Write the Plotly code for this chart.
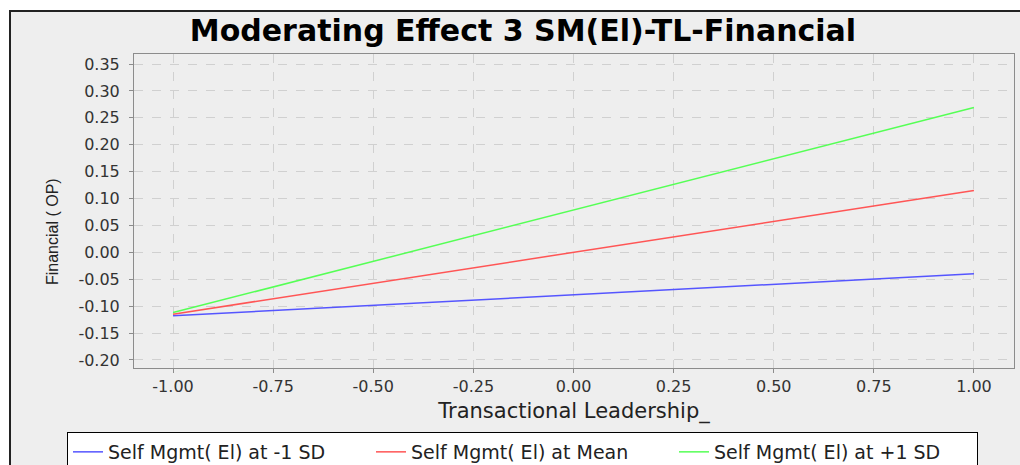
import plotly.graph_objects as go

# data
x_vals = [-1.0, 1.0]
series_names = [
    "Self Mgmt( El) at -1 SD",
    "Self Mgmt( El) at Mean",
    "Self Mgmt( El) at +1 SD",
]
low_sd = [-0.118, -0.040]
mean_sd = [-0.115, 0.115]
high_sd = [-0.112, 0.269]
series_colors = ["#5555FF", "#FF5555", "#55FF55"]

x_ticks = [-1.0, -0.75, -0.5, -0.25, 0.0, 0.25, 0.5, 0.75, 1.0]
y_ticks = [-0.2, -0.15, -0.1, -0.05, 0.0, 0.05, 0.1, 0.15, 0.2, 0.25, 0.3, 0.35]
x_labels = [f"{v:.2f}" for v in x_ticks]   # plain hyphen minus, like the original
y_labels = [f"{v:.2f}" for v in y_ticks]

W, H = 1020, 465
ML, MR, MT, MB = 134, 6, 54, 97
pw, ph = W - ML - MR, H - MT - MB


def px_x(p):
    return (p - ML) / pw


def px_y(p):
    return 1 - (p - MT) / ph


fig = go.Figure()
for name, ys, col in zip(series_names, [low_sd, mean_sd, high_sd], series_colors):
    fig.add_trace(go.Scatter(
        x=x_vals, y=ys, mode="lines", name=name,
        line=dict(color=col, width=1.5),
    ))

# outer chart frame (grey panel with dark border on top/left)
fig.add_shape(
    type="rect", xref="paper", yref="paper", layer="below",
    x0=px_x(10), x1=px_x(1100), y0=px_y(560), y1=px_y(11),
    fillcolor="#EEEEEE", line=dict(color="#222222", width=2),
)

# y axis label sits a little below the plot centre in the original
fig.add_annotation(
    text="Financial ( OP)", textangle=-90, showarrow=False,
    xref="paper", yref="paper", x=px_x(52), y=px_y(232),
    xanchor="center", yanchor="middle",
    font=dict(family="Liberation Sans", size=16, color="#222222"),
)

axis_common = dict(
    showgrid=True, gridcolor="#D0D0D0", griddash="dash", gridwidth=1,
    showline=True, linecolor="#8C8C8C", linewidth=1, mirror=True,
    ticks="outside", ticklen=4, tickcolor="#8C8C8C", zeroline=False,
    tickfont=dict(family="DejaVu Sans", size=16, color="#333333"),
)

fig.update_layout(
    width=W, height=H,
    margin=dict(l=ML, r=MR, t=MT, b=MB, autoexpand=False),
    paper_bgcolor="white", plot_bgcolor="white",
    title=dict(
        text="<b>Moderating Effect 3 SM(El)-TL-Financial</b>",
        xref="container", x=523 / W, xanchor="center", y=1 - 30 / H, yanchor="middle",
        font=dict(family="DejaVu Sans", size=30, color="black"),
    ),
    xaxis=dict(
        range=[-1.0975, 1.1], tickvals=x_ticks, ticktext=x_labels,
        title=dict(text="Transactional Leadership_", standoff=8,
                   font=dict(family="DejaVu Sans", size=21, color="#222222")),
        **axis_common,
    ),
    yaxis=dict(
        range=[-0.215, 0.3686], tickvals=y_ticks, ticktext=y_labels,
        ticklabelstandoff=6,
        **axis_common,
    ),
    showlegend=True,
    legend=dict(
        orientation="h", x=px_x(67), xanchor="left", y=px_y(432), yanchor="top",
        bgcolor="white", bordercolor="black", borderwidth=1,
        font=dict(family="DejaVu Sans", size=19, color="#222222"),
        entrywidth=258, itemwidth=30,
    ),
)

fig.write_html(
    "out.html",
    config={"displayModeBar": False},
    post_script="document.body.style.margin='0';document.body.style.overflow='hidden';",
)
